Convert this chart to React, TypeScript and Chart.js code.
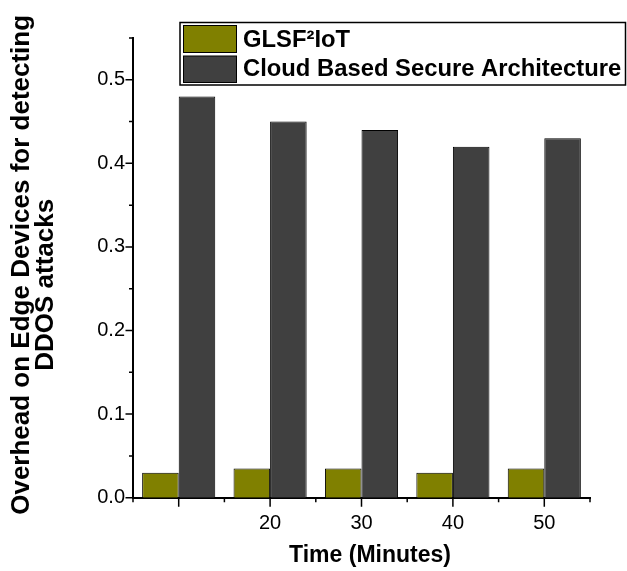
import { useEffect, useRef } from 'react';
import { Chart, registerables } from 'chart.js';

Chart.register(...registerables);

const categories = [10, 20, 30, 40, 50];
const tickLabels = ['', '20', '30', '40', '50'];
const glsfValues = [0.03, 0.035, 0.035, 0.03, 0.035];
const cloudValues = [0.48, 0.45, 0.44, 0.42, 0.43];
const seriesNames = ['GLSF²IoT', 'Cloud Based Secure Architecture'];
const seriesColors = ['#808000', '#404040'];
const yMajorTicks = [0, 0.1, 0.2, 0.3, 0.4, 0.5];
const yMinorTicks = [0.05, 0.15, 0.25, 0.35, 0.45, 0.55];
const xTitle = 'Time (Minutes)';
const yTitle = ['Overhead on Edge Devices for detecting', 'DDOS attacks'];

const FONT = '"Liberation Sans", Arial, Helvetica, sans-serif';

const tickPlugin = {
  id: 'originTicks',
  afterDraw(chart: any) {
    const { ctx } = chart;
    const x = chart.scales.x;
    const y = chart.scales.y;
    ctx.save();
    ctx.strokeStyle = '#000';
    ctx.lineWidth = 1.5;
    ctx.beginPath();
    categories.forEach((_, i) => {
      const px = x.getPixelForValue(i);
      ctx.moveTo(px, x.top);
      ctx.lineTo(px, x.top + 9);
    });
    for (let i = 0; i <= categories.length; i++) {
      const px = x.getPixelForValue(i - 0.5);
      ctx.moveTo(px, x.top);
      ctx.lineTo(px, x.top + 4.5);
    }
    yMajorTicks.forEach((v) => {
      const py = y.getPixelForValue(v);
      ctx.moveTo(y.right, py);
      ctx.lineTo(y.right - 7.5, py);
    });
    yMinorTicks.forEach((v) => {
      const py = y.getPixelForValue(v);
      ctx.moveTo(y.right, py);
      ctx.lineTo(y.right - 4, py);
    });
    ctx.stroke();

    // y-axis title (two lines, rotated)
    const cy = (y.top + y.bottom) / 2;
    ctx.fillStyle = '#000';
    ctx.font = `bold 26px ${FONT}`;
    ctx.textAlign = 'center';
    ctx.textBaseline = 'alphabetic';
    const baselines = [28.5, 53];
    const centers = [cy - 3, cy + 17];
    yTitle.forEach((line, i) => {
      ctx.save();
      ctx.translate(baselines[i], centers[i]);
      ctx.rotate(-Math.PI / 2);
      ctx.fillText(line, 0, 0);
      ctx.restore();
    });

    // x-axis title
    ctx.font = `bold 23px ${FONT}`;
    ctx.textAlign = 'center';
    ctx.fillText(xTitle, (x.left + x.right) / 2 + 8.5, 562);
    ctx.restore();
  },
};

const legendPlugin = {
  id: 'boxLegend',
  afterDraw(chart: any) {
    const { ctx } = chart;
    const left = 180;
    const top = 22.5;
    const right = 625.5;
    const bottom = 85;
    ctx.save();
    ctx.fillStyle = '#fff';
    ctx.fillRect(left, top, right - left, bottom - top);
    ctx.strokeStyle = '#000';
    ctx.lineWidth = 1.5;
    ctx.strokeRect(left, top, right - left, bottom - top);
    const rows = [
      { y: 25.5, h: 27, base: 47 },
      { y: 56, h: 26.5, base: 75.5 },
    ];
    chart.data.datasets.forEach((ds: any, i: number) => {
      const r = rows[i];
      ctx.fillStyle = ds.backgroundColor;
      ctx.fillRect(183.5, r.y, 53, r.h);
      ctx.lineWidth = 1;
      ctx.strokeStyle = '#000';
      ctx.strokeRect(183.5, r.y, 53, r.h);
      ctx.fillStyle = '#000';
      ctx.font = `bold 23.8px ${FONT}`;
      ctx.textBaseline = 'alphabetic';
      ctx.textAlign = 'left';
      ctx.fillText(ds.label, 243, r.base);
    });
    ctx.restore();
  },
};

export default function App() {
  const canvasRef = useRef<HTMLCanvasElement | null>(null);

  useEffect(() => {
    if (!canvasRef.current) return;
    const chart = new Chart(canvasRef.current, {
      type: 'bar',
      data: {
        labels: categories.map(String),
        datasets: [
          {
            label: seriesNames[0],
            data: glsfValues,
            backgroundColor: seriesColors[0],
            borderColor: '#000',
            borderWidth: 1,
            categoryPercentage: 0.8,
            barPercentage: 1.0,
          },
          {
            label: seriesNames[1],
            data: cloudValues,
            backgroundColor: seriesColors[1],
            borderColor: '#000',
            borderWidth: 1,
            categoryPercentage: 0.8,
            barPercentage: 1.0,
          },
        ],
      },
      options: {
        animation: false,
        responsive: true,
        maintainAspectRatio: false,
        layout: { padding: { top: 38, right: 37, left: 0, bottom: 0 } },
        plugins: {
          legend: { display: false },
          tooltip: { enabled: false },
        },
        scales: {
          x: {
            type: 'category',
            offset: true,
            grid: { display: false, drawTicks: false },
            border: { display: true, color: '#000', width: 2 },
            ticks: {
              color: '#000',
              font: { family: FONT, size: 20 },
              padding: 14,
              autoSkip: false,
              maxRotation: 0,
              callback: (_v: any, i: number) => tickLabels[i],
            },
            title: { display: false },
            afterFit: (s: any) => {
              s.height = 73.3;
            },
          },
          y: {
            min: 0,
            max: 0.55,
            grid: { display: false, drawTicks: false },
            border: { display: true, color: '#000', width: 2 },
            ticks: {
              stepSize: 0.1,
              includeBounds: false,
              color: '#000',
              font: { family: FONT, size: 20 },
              padding: 8,
              callback: (v: any) => Number(v).toFixed(1),
            },
            title: { display: false },
            afterFit: (s: any) => {
              s.width = 133;
            },
          },
        },
      } as any,
      plugins: [tickPlugin, legendPlugin],
    });
    return () => chart.destroy();
  }, []);

  return (
    <div style={{ position: 'fixed', left: 0, top: 0, width: 627, height: 571, background: '#fff' }}>
      <canvas ref={canvasRef} />
    </div>
  );
}
